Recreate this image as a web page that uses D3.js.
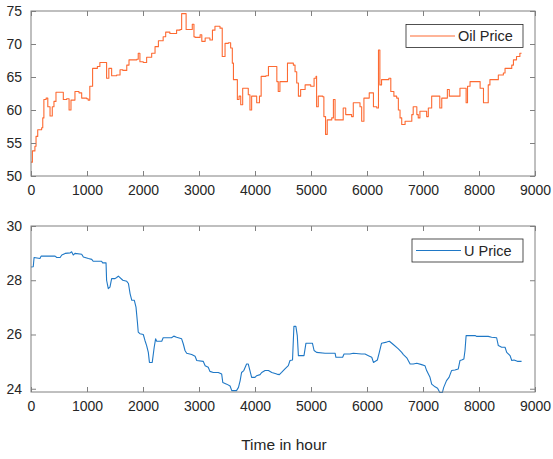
<!DOCTYPE html>
<html>
<head>
<meta charset="utf-8">
<script src="https://cdn.jsdelivr.net/npm/d3@7"></script>
<style>
  body { margin: 0; background: #fff; }
  svg { font-family: "Liberation Sans", Arial, sans-serif; }
</style>
</head>
<body>
<script>
// oil price, hour -> value
const oilT = [0, 25, 70, 90, 120, 190, 210, 230, 270, 300, 340, 380, 410, 446, 535, 577, 637, 680, 714, 785, 857, 905, 995, 1020, 1050, 1100, 1185, 1230, 1335, 1350, 1390, 1440, 1530, 1590, 1640, 1710, 1750, 1890, 1915, 1945, 2005, 2065, 2155, 2215, 2275, 2360, 2405, 2480, 2600, 2660, 2690, 2740, 2770, 2840, 2880, 2910, 2930, 3020, 3050, 3110, 3195, 3240, 3285, 3375, 3415, 3465, 3525, 3565, 3595, 3615, 3670, 3685, 3715, 3745, 3780, 3850, 3880, 3910, 3940, 4000, 4030, 4080, 4110, 4195, 4240, 4360, 4390, 4415, 4445, 4555, 4580, 4685, 4715, 4745, 4775, 4815, 4895, 4995, 5055, 5090, 5100, 5130, 5210, 5230, 5260, 5290, 5370, 5400, 5430, 5575, 5620, 5725, 5755, 5875, 5905, 5945, 6040, 6115, 6175, 6205, 6230, 6260, 6390, 6425, 6480, 6530, 6560, 6590, 6620, 6680, 6770, 6800, 6825, 6890, 6915, 6945, 7065, 7095, 7155, 7245, 7300, 7335, 7435, 7470, 7570, 7660, 7770, 7795, 7840, 7930, 8020, 8080, 8135, 8165, 8195, 8285, 8345, 8435, 8465, 8585, 8615, 8670, 8730, 8760];
const oilV = [52.1, 53.8, 54.5, 56.0, 57.0, 57.3, 58.8, 61.6, 61.8, 60.5, 59.1, 60.5, 61.3, 62.7, 62.7, 61.6, 61.7, 60.0, 61.5, 62.8, 62.6, 61.8, 61.7, 61.5, 63.6, 66.3, 66.6, 67.2, 67.2, 64.8, 66.3, 65.2, 65.3, 66.1, 66.0, 66.8, 67.6, 67.7, 68.6, 67.3, 67.2, 68.0, 68.6, 69.6, 70.5, 71.1, 71.8, 71.6, 72.1, 72.2, 74.6, 74.6, 72.2, 72.2, 73.0, 71.1, 71.0, 71.4, 70.4, 70.9, 70.6, 72.1, 72.7, 72.4, 68.1, 70.1, 70.2, 69.4, 67.1, 64.6, 64.6, 61.6, 62.1, 60.8, 63.3, 63.3, 62.3, 60.0, 62.1, 62.1, 61.1, 62.1, 65.1, 65.2, 66.6, 66.6, 64.3, 62.8, 64.3, 64.3, 67.1, 66.8, 65.8, 64.1, 62.1, 63.1, 63.8, 63.6, 64.8, 65.1, 60.5, 62.1, 62.0, 59.0, 56.3, 58.5, 58.8, 61.6, 58.5, 60.3, 59.3, 59.0, 61.1, 60.5, 58.3, 61.8, 62.6, 60.5, 60.3, 69.1, 63.8, 64.6, 64.8, 62.8, 62.1, 61.8, 60.0, 58.8, 57.8, 58.3, 58.3, 59.3, 60.5, 59.3, 58.8, 59.8, 59.0, 60.3, 62.1, 62.1, 60.3, 61.8, 63.1, 62.1, 62.1, 63.3, 61.1, 63.6, 64.3, 64.3, 63.3, 61.1, 61.1, 63.8, 64.6, 64.6, 65.3, 65.6, 66.3, 66.8, 67.6, 68.1, 68.6, 68.6];

// U price, hour -> value
const uT = [0, 40, 55, 160, 180, 430, 460, 520, 550, 610, 700, 725, 755, 785, 905, 935, 1025, 1085, 1110, 1260, 1280, 1340, 1350, 1380, 1410, 1440, 1500, 1530, 1560, 1640, 1710, 1740, 1770, 1800, 1845, 1875, 1900, 1915, 1945, 2005, 2035, 2065, 2095, 2115, 2165, 2200, 2225, 2245, 2335, 2360, 2510, 2550, 2600, 2690, 2720, 2750, 2780, 2870, 2930, 2960, 3075, 3110, 3165, 3195, 3255, 3345, 3405, 3425, 3495, 3555, 3585, 3670, 3705, 3735, 3760, 3800, 3850, 3880, 3940, 4000, 4030, 4090, 4120, 4180, 4240, 4300, 4390, 4435, 4475, 4535, 4595, 4625, 4670, 4695, 4730, 4755, 4775, 4875, 4910, 5025, 5055, 5100, 5250, 5430, 5445, 5565, 5590, 5695, 5755, 5905, 5965, 6025, 6085, 6115, 6185, 6220, 6260, 6350, 6400, 6470, 6560, 6620, 6650, 6710, 6770, 6825, 6890, 6975, 7035, 7065, 7125, 7155, 7215, 7260, 7300, 7345, 7370, 7420, 7465, 7510, 7570, 7630, 7660, 7690, 7730, 7750, 7770, 7810, 7930, 7960, 8165, 8225, 8315, 8345, 8405, 8465, 8495, 8555, 8585, 8625, 8685, 8760];
const uV = [28.49, 28.5, 28.84, 28.8, 28.89, 28.89, 28.84, 28.84, 28.93, 28.99, 29.01, 29.05, 28.93, 28.99, 28.96, 28.86, 28.8, 28.77, 28.7, 28.7, 28.64, 28.64, 28.0, 27.69, 27.75, 28.06, 28.06, 28.1, 28.15, 28.0, 27.96, 27.88, 27.5, 27.26, 27.26, 27.01, 26.46, 26.09, 26.03, 26.0, 25.78, 25.59, 25.34, 24.97, 24.97, 25.53, 25.84, 25.75, 25.75, 25.88, 25.88, 25.94, 25.9, 25.84, 25.65, 25.41, 25.31, 25.26, 25.2, 25.04, 25.01, 24.85, 24.79, 24.64, 24.6, 24.6, 24.54, 24.23, 24.17, 24.1, 23.93, 23.93, 24.05, 24.3, 24.6, 24.67, 24.91, 24.91, 24.42, 24.42, 24.48, 24.52, 24.6, 24.67, 24.67, 24.6, 24.54, 24.52, 24.6, 24.73, 24.85, 25.04, 25.06, 26.3, 26.3, 25.96, 25.22, 25.22, 25.68, 25.68, 25.41, 25.34, 25.31, 25.31, 25.16, 25.16, 25.28, 25.28, 25.31, 25.28, 25.28, 25.22, 25.16, 24.97, 25.06, 25.34, 25.68, 25.72, 25.75, 25.63, 25.47, 25.34, 25.26, 25.14, 24.91, 24.91, 24.94, 24.89, 24.85, 24.67, 24.42, 24.17, 24.07, 24.02, 23.86, 23.86, 24.05, 24.3, 24.42, 24.67, 24.69, 24.73, 25.04, 25.06, 25.1, 25.41, 25.96, 25.96, 25.96, 25.93, 25.93, 25.9, 25.88, 25.59, 25.53, 25.53, 25.34, 25.22, 25.04, 25.06, 25.01, 25.01];

const xTicks = [0, 1000, 2000, 3000, 4000, 5000, 6000, 7000, 8000, 9000];
const oilTicks = [50, 55, 60, 65, 70, 75];
const uTicks = [24, 26, 28, 30];

const W = 553, H = 459;
const svg = d3.select('body').append('svg')
    .attr('width', W)
    .attr('height', H);

const axisCol = '#808080';
const textCol = '#262626';

const x = d3.scaleLinear().domain([0, 9000]).range([31, 535]);

/**
 * one MATLAB-like panel with box, inner ticks and a legend
 */
function panel(opts) {
    const y = d3.scaleLinear().domain(opts.yDomain).range([opts.bottom, opts.top]);
    const g = svg.append('g');

    const line = d3.line()
        .x((d, i) => x(opts.t[i]))
        .y((d) => y(d))
        .curve(opts.curve);

    g.append('path')
        .datum(opts.v)
        .attr('d', line)
        .attr('fill', 'none')
        .attr('stroke', opts.color)
        .attr('stroke-width', 1.1)
        .attr('stroke-linejoin', 'round');

    // box
    g.append('rect')
        .attr('x', 31).attr('y', opts.top)
        .attr('width', 504).attr('height', opts.bottom - opts.top)
        .attr('fill', 'none')
        .attr('stroke', axisCol)
        .attr('stroke-width', 1);

    const tl = 5;
    const fmt = d3.format('d');
    const bot = d3.axisBottom(x).tickValues(xTicks).tickSize(-tl).tickPadding(9).tickFormat(fmt);
    const top = d3.axisTop(x).tickValues(xTicks).tickSize(-tl).tickFormat('');
    const left = d3.axisLeft(y).tickValues(opts.yTicks).tickSize(-tl).tickPadding(9).tickFormat(fmt);
    const right = d3.axisRight(y).tickValues(opts.yTicks).tickSize(-tl).tickFormat('');

    [[bot, `translate(0,${opts.bottom})`], [top, `translate(0,${opts.top})`],
     [left, 'translate(31,0)'], [right, 'translate(535,0)']].forEach(([ax, tr]) => {
        const a = g.append('g').attr('transform', tr).call(ax);
        a.select('.domain').remove();
        a.selectAll('line').attr('stroke', axisCol);
        a.selectAll('text').attr('fill', textCol).style('font-size', '14px')
            .style('font-family', '"Liberation Sans", Arial, sans-serif');
    });

    // legend
    const lg = g.append('g');
    lg.append('rect')
        .attr('x', opts.lx).attr('y', opts.ly)
        .attr('width', 523 - opts.lx).attr('height', 23)
        .attr('fill', '#fff')
        .attr('stroke', textCol)
        .attr('stroke-width', 0.8);
    lg.append('line')
        .attr('x1', opts.lx + 4).attr('x2', opts.lx + 49)
        .attr('y1', opts.ly + 11.5).attr('y2', opts.ly + 11.5)
        .attr('stroke', opts.color).attr('stroke-width', 1.1);
    lg.append('text')
        .attr('x', opts.lx + 52).attr('y', opts.ly + 16.8)
        .attr('fill', textCol)
        .style('font-size', '14.5px')
        .text(opts.label);
}

panel({ t: oilT, v: oilV, yDomain: [50, 75], yTicks: oilTicks, top: 11, bottom: 176,
        color: '#fd6a32', label: 'Oil Price', lx: 406, ly: 24.5, curve: d3.curveStepAfter });
panel({ t: uT, v: uV, yDomain: [23.88, 30], yTicks: uTicks, top: 226, bottom: 392,
        color: '#1f78c6', label: 'U Price', lx: 412, ly: 239, curve: d3.curveLinear });

svg.append('text')
    .attr('x', 284).attr('y', 449.5)
    .attr('text-anchor', 'middle')
    .attr('fill', textCol)
    .style('font-size', '15.5px')
    .text('Time in hour');
</script>
</body>
</html>
